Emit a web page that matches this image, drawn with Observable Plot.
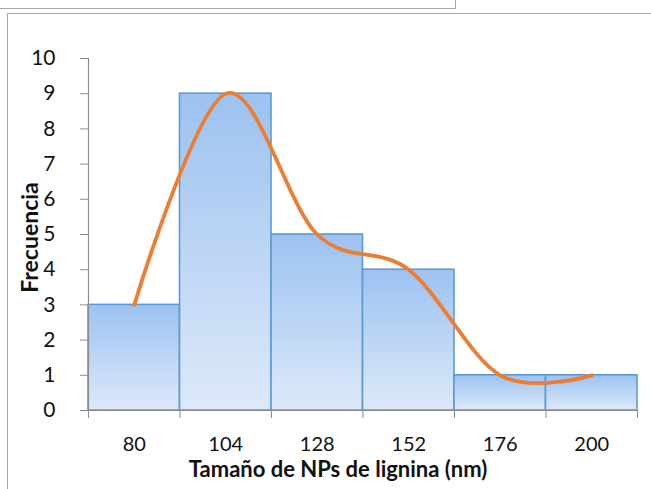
<!DOCTYPE html>
<html>
<head>
<meta charset="utf-8">
<script src="https://cdn.jsdelivr.net/npm/d3@7"></script>
<script src="https://cdn.jsdelivr.net/npm/@observablehq/plot@0.6"></script>
<style>
  html, body { margin: 0; padding: 0; background: #fff; }
  body { width: 651px; height: 489px; position: relative; overflow: hidden; font-family: Lato, "Open Sans", sans-serif; }
  #topbox { position: absolute; left: -2px; top: -2px; width: 457px; height: 10px; border-right: 1.5px solid #a6a6a6; border-bottom: 1.5px solid #a6a6a6; }
  #frame { position: absolute; left: 7px; top: 13px; width: 700px; height: 600px; border-left: 1.5px solid #a6a6a6; border-top: 1.5px solid #a6a6a6; }
  #chart { position: absolute; left: 0; top: 0; }
</style>
</head>
<body>
<div id="topbox"></div>
<div id="frame"></div>
<div id="chart"></div>
<script>
const categories = [80, 104, 128, 152, 176, 200];
const frecuencia = [3, 9, 5, 4, 1, 1];
const yTicks = [0, 1, 2, 3, 4, 5, 6, 7, 8, 9, 10];
const binWidth = 24;
const xLabel = "Tamaño de NPs de lignina (nm)";
const yLabel = "Frecuencia";

const data = categories.map((c, i) => ({c, v: frecuencia[i]}));
const edges = categories.map(c => c - binWidth / 2).concat([categories[categories.length - 1] + binWidth / 2]);

const plot = Plot.plot({
  width: 651,
  height: 489,
  marginLeft: 88,
  marginRight: 14,
  marginTop: 58,
  marginBottom: 79,
  style: {fontFamily: "Lato, 'Open Sans', sans-serif", fontSize: "20px", background: "transparent", overflow: "visible"},
  x: {type: "linear", domain: [edges[0], edges[edges.length - 1]]},
  y: {type: "linear", domain: [0, 10]},
  marks: [
    Plot.rectY(data, {x1: d => d.c - binWidth / 2, x2: d => d.c + binWidth / 2, y1: 0, y2: "v", fill: "url(#barGrad)", stroke: "#5b9bd5", strokeWidth: 1.6}),
    Plot.ruleX([edges[0]], {y1: 0, y2: 10, stroke: "#8c8c8c", strokeWidth: 1.2}),
    Plot.axisY(yTicks, {tickSize: 8, tickPadding: 25, fontSize: 21, stroke: "#8c8c8c", color: "#111", label: null, strokeOpacity: 1}),
    Plot.ruleY([0], {stroke: "#8c8c8c", strokeWidth: 1.2}),
    Plot.axisX(categories, {tickSize: 0, tickPadding: 26, fontSize: 20, color: "#111", label: null}),
    Plot.axisX(edges, {tickSize: 8, tickFormat: () => "", stroke: "#8c8c8c", label: null}),
    Plot.line(data, {x: "c", y: "v", curve: "cardinal", stroke: "#ed7d31", strokeWidth: 3.8, strokeLinecap: "round"}),
    Plot.text([yLabel], {frameAnchor: "left", textAnchor: "middle", rotate: -90, dx: -58, dy: 3, fontSize: 23, fontWeight: "bold", fill: "#111"}),
    Plot.text([xLabel], {frameAnchor: "bottom", dx: -25, dy: 66, fontSize: 22, fontWeight: "bold", fill: "#111"})
  ]
});

// gradient for the bars
const svg = d3.select(plot);
const defs = svg.insert("defs", ":first-child");
const grad = defs.append("linearGradient").attr("id", "barGrad").attr("x1", 0).attr("y1", 0).attr("x2", 0).attr("y2", 1);
grad.append("stop").attr("offset", "0%").attr("stop-color", "#9cc2f1");
grad.append("stop").attr("offset", "100%").attr("stop-color", "#dde9f9");

document.getElementById("chart").appendChild(plot);
</script>
</body>
</html>
